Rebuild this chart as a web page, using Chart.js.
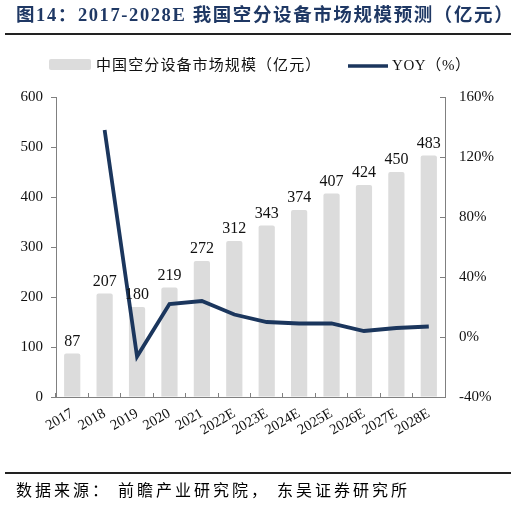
<!DOCTYPE html>
<html>
<head>
<meta charset="utf-8">
<script src="https://cdn.jsdelivr.net/npm/chart.js@4.4.1/dist/chart.umd.min.js"></script>
<style>
  html, body { margin: 0; padding: 0; background: #fff; overflow: hidden; }
  #wrap { width: 516px; height: 507px; position: relative; }
</style>
</head>
<body>
<div id="wrap"><canvas id="myChart"></canvas></div>
<script>
const years = ['2017','2018','2019','2020','2021','2022E','2023E','2024E','2025E','2026E','2027E','2028E'];
const marketSize = [87,207,180,219,272,312,343,374,407,424,450,483];   // 亿元
const yoy = [null,138,-13,22,24,15,10,9,9,4,6,7];                       // %
const leftTicks = [0,100,200,300,400,500,600];
const rightTicks = [-40,0,40,80,120,160];

const titleText = '图14：2017-2028E 我国空分设备市场规模预测（亿元）';
const sourceText = '数据来源： 前瞻产业研究院， 东吴证券研究所';
const barLabel = '中国空分设备市场规模（亿元）';
const lineLabel = 'YOY（%）';

const SERIF = "'Liberation Serif', 'Noto Sans CJK SC', serif";
const BAR_COLOR = '#dcdcdc';
const LINE_COLOR = '#1b365d';
const AXIS_COLOR = '#808080';

// 제목, 구분선, 출처, 범례, 막대 값 표시
const decoPlugin = {
    id: 'deco',
    beforeDraw(c) {
        const ctx = c.ctx;
        ctx.save();
        ctx.fillStyle = '#fff';
        ctx.fillRect(0, 0, c.width, c.height);
        ctx.restore();
    },
    afterDraw(c) {
        const ctx = c.ctx;
        ctx.save();

        // title
        ctx.fillStyle = '#1f3864';
        ctx.font = 'bold 18.5px ' + SERIF;
        ctx.letterSpacing = '1.6px';
        ctx.textBaseline = 'middle';
        ctx.textAlign = 'left';
        ctx.fillText(titleText, 16, 16);

        // rules
        ctx.fillStyle = '#222';
        ctx.fillRect(5, 33, 506, 2);
        ctx.fillRect(5, 472, 506, 2);

        // source
        ctx.fillStyle = '#000';
        ctx.font = '16px ' + SERIF;
        ctx.letterSpacing = '3px';
        ctx.fillText(sourceText, 16, 492);

        // legend
        ctx.fillStyle = BAR_COLOR;
        ctx.beginPath();
        ctx.roundRect(49, 59, 42, 11, 2);
        ctx.fill();
        ctx.fillStyle = '#111';
        ctx.font = '15px ' + SERIF;
        ctx.letterSpacing = '1.1px';
        ctx.fillText(barLabel, 96, 66);
        ctx.strokeStyle = LINE_COLOR;
        ctx.lineWidth = 3.5;
        ctx.beginPath();
        ctx.moveTo(348, 66);
        ctx.lineTo(388, 66);
        ctx.stroke();
        ctx.fillStyle = '#111';
        ctx.letterSpacing = '0.6px';
        ctx.fillText(lineLabel, 392, 66);
        ctx.letterSpacing = '0px';

        // bar value labels
        const meta = c.getDatasetMeta(1);
        ctx.font = '16px ' + SERIF;
        ctx.fillStyle = '#111';
        ctx.textAlign = 'center';
        ctx.textBaseline = 'alphabetic';
        meta.data.forEach((bar, i) => {
            ctx.fillText(String(marketSize[i]), bar.x, bar.y - 8);
        });

        ctx.restore();
    }
};

const chart = new Chart(document.getElementById('myChart'), {
    data: {
        labels: years,
        datasets: [
            {
                type: 'line',
                label: lineLabel,
                data: yoy,
                yAxisID: 'y1',
                borderColor: LINE_COLOR,
                borderWidth: 3.8,
                pointRadius: 0,
                tension: 0,
                order: 0
            },
            {
                type: 'bar',
                label: barLabel,
                data: marketSize,
                yAxisID: 'y',
                backgroundColor: BAR_COLOR,
                borderRadius: 2,
                borderSkipped: 'bottom',
                categoryPercentage: 1,
                barPercentage: 0.5,
                order: 1
            }
        ]
    },
    options: {
        responsive: true,
        maintainAspectRatio: false,
        animation: false,
        layout: { padding: { left: 16, right: 16, top: 97, bottom: 60 } },
        plugins: {
            legend: { display: false },
            tooltip: { enabled: false }
        },
        scales: {
            x: {
                grid: { drawOnChartArea: false, drawTicks: true, tickLength: -4, color: AXIS_COLOR, offset: true },
                border: { display: true, color: AXIS_COLOR },
                ticks: {
                    color: '#111',
                    font: { family: SERIF, size: 14.5 },
                    minRotation: 30,
                    maxRotation: 30,
                    padding: 12,
                    autoSkip: false
                },
                afterFit(s) { s.height = 50; }
            },
            y: {
                position: 'left',
                min: 0,
                max: 600,
                afterBuildTicks(s) { s.ticks = leftTicks.map(v => ({ value: v })); },
                grid: { drawOnChartArea: false, drawTicks: true, tickLength: 5, color: AXIS_COLOR },
                border: { display: true, color: AXIS_COLOR },
                ticks: { color: '#111', font: { family: SERIF, size: 15 }, padding: 8 },
                afterFit(s) { s.width = 40; }
            },
            y1: {
                position: 'right',
                min: -40,
                max: 160,
                afterBuildTicks(s) { s.ticks = rightTicks.map(v => ({ value: v })); },
                grid: { drawOnChartArea: false, drawTicks: true, tickLength: -5, color: AXIS_COLOR },
                border: { display: true, color: AXIS_COLOR },
                ticks: {
                    color: '#111',
                    font: { family: SERIF, size: 15 },
                    padding: 19,
                    callback: v => v + '%'
                },
                afterFit(s) { s.width = 55; }
            }
        }
    },
    plugins: [decoPlugin]
});
</script>
</body>
</html>
